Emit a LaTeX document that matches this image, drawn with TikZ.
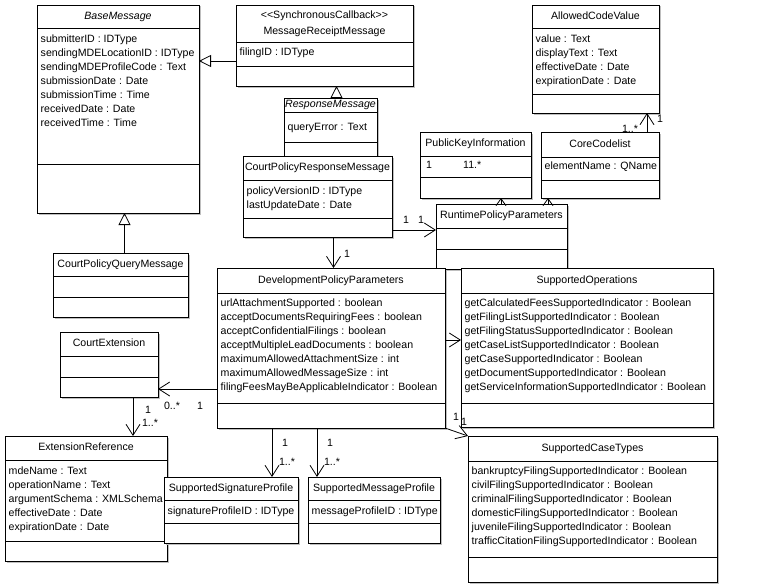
\documentclass[tikz,border=0pt]{standalone}
\usepackage{fontspec}
\setmainfont{Liberation Sans}
\usetikzlibrary{arrows.meta, shadows}

\tikzset{
  classbox/.style={draw, fill=white, line width=0.8pt, anchor=north west, outer sep=0pt, inner sep=0pt,
    drop shadow={shadow xshift=1.5pt, shadow yshift=-1.5pt, fill=black!25, opacity=1}},
  umltext/.style={font=\fontsize{10.6}{14}\selectfont, inner sep=0pt, text height=7.5pt, text depth=2pt},
  titletext/.style={umltext},
  attrtext/.style={umltext, anchor=west},
  multlabel/.style={umltext},
  gen/.style={line width=0.8pt, -{Triangle[open, length=12pt, width=12pt]}},
  assoc/.style={line width=0.8pt, -{Straight Barb[length=11pt, width=14pt]}},
  assocshort/.style={line width=0.8pt, -{Straight Barb[length=7pt, width=10pt]}},
}

% class box: name, x, y, width, height, title line, attribute line, title
\newcommand{\umlclass}[8]{%
  \node[classbox, minimum width=#4pt, minimum height=#5pt] (#1) at (#2,#3) {};
  \draw[line width=0.8pt] ([yshift=-#6pt]#1.north west) -- ([yshift=-#6pt]#1.north east);
  \draw[line width=0.8pt] ([yshift=-#7pt]#1.north west) -- ([yshift=-#7pt]#1.north east);
  \node[titletext] (#1-t) at ([yshift={-#6/2}]#1.north) {#8};
}
% attributes: name, first row below top, list
\newcommand{\umlattrs}[3]{%
  \foreach \txt [count=\i] in {#3}
    \node[attrtext] (#1-a\i) at ([xshift=3.5pt, yshift={-(#2+14*(\i-1))}]#1.north west) {\txt};
}

\begin{document}
\begin{tikzpicture}[x=1pt, y=-1pt]
  \useasboundingbox[fill=white] (0,0) rectangle (765,586);

  % Messages
  \umlclass{base}{37}{5}{162}{208}{23}{159}{\textit{BaseMessage}}
  \umlattrs{base}{35}{submitterID : IDType, sendingMDELocationID : IDType, sendingMDEProfileCode : Text, submissionDate : Date, submissionTime : Time, receivedDate : Date, receivedTime : Time}

  \umlclass{mrm}{236}{5}{177}{81}{37}{61}{}
  \node[titletext] (mrm-s) at ([yshift=-11pt]mrm.north) {<{}<SynchronousCallback>{}>};
  \node[titletext] (mrm-n) at ([yshift=-27pt]mrm.north) {MessageReceiptMessage};
  \umlattrs{mrm}{48}{filingID : IDType}

  \umlclass{rm}{284}{98}{93}{59}{14}{44}{\textit{ResponseMessage}}
  \umlattrs{rm}{30}{queryError : Text}

  \umlclass{cprm}{243}{156}{149}{81}{24}{62}{CourtPolicyResponseMessage}
  \umlattrs{cprm}{36}{policyVersionID : IDType, lastUpdateDate : Date}

  \umlclass{cpqm}{53}{253}{135}{64}{23}{44}{CourtPolicyQueryMessage}

  % Code lists
  \umlclass{acv}{532}{5}{127}{108}{23}{89}{AllowedCodeValue}
  \umlattrs{acv}{35}{value : Text, displayText : Text, effectiveDate : Date, expirationDate : Date}

  \umlclass{pki}{420}{132}{111}{66}{24}{45}{PublicKeyInformation}
  \node[attrtext] (pki-m1) at (426,166) {1};
  \node[attrtext] (pki-m2) at (463,166) {11.*};

  \umlclass{core}{541}{132}{118}{66}{25}{48}{CoreCodelist}
  \umlattrs{core}{35}{elementName : QName}

  \umlclass{runtime}{436}{204}{131}{65}{24}{45}{RuntimePolicyParameters}

  % Policy parameters
  \umlclass{dpp}{217}{268}{228}{160}{25}{135}{DevelopmentPolicyParameters}
  \umlattrs{dpp}{36}{urlAttachmentSupported : boolean, acceptDocumentsRequiringFees : boolean, acceptConfidentialFilings : boolean, acceptMultipleLeadDocuments : boolean, maximumAllowedAttachmentSize : int, maximumAllowedMessageSize : int, filingFeesMayBeApplicableIndicator : Boolean}

  \umlclass{so}{461}{268}{252}{159}{25}{135}{SupportedOperations}
  \umlattrs{so}{36}{getCalculatedFeesSupportedIndicator : Boolean, getFilingListSupportedIndicator : Boolean, getFilingStatusSupportedIndicator : Boolean, getCaseListSupportedIndicator : Boolean, getCaseSupportedIndicator : Boolean, getDocumentSupportedIndicator : Boolean, getServiceInformationSupportedIndicator : Boolean}

  \umlclass{sct}{468}{436}{249}{146}{25}{121}{SupportedCaseTypes}
  \umlattrs{sct}{36}{bankruptcyFilingSupportedIndicator : Boolean, civilFilingSupportedIndicator : Boolean, criminalFilingSupportedIndicator : Boolean, domesticFilingSupportedIndicator : Boolean, juvenileFilingSupportedIndicator : Boolean, trafficCitationFilingSupportedIndicator : Boolean}

  % Extensions and profiles
  \umlclass{ce}{60}{332}{98}{65}{24}{45}{CourtExtension}

  \umlclass{er}{5}{436}{162}{125}{24}{105}{ExtensionReference}
  \umlattrs{er}{36}{mdeName : Text, operationName : Text, argumentSchema : XMLSchema, effectiveDate : Date, expirationDate : Date}

  \umlclass{ssp}{164}{477}{134}{66}{23}{46}{SupportedSignatureProfile}
  \umlattrs{ssp}{35}{signatureProfileID : IDType}

  \umlclass{smp}{308}{477}{132}{66}{23}{46}{SupportedMessageProfile}
  \umlattrs{smp}{35}{messageProfileID : IDType}

  % Generalizations
  \coordinate (mrm-g) at ([yshift=-56pt]mrm.north west);
  \draw[gen] (mrm-g) -- (mrm-g -| base.east);
  \coordinate (cpqm-g) at ([xshift=4pt]cpqm.north);
  \draw[gen] (cpqm-g) -- (cpqm-g |- base.south);
  \coordinate (rm-g) at ([xshift=6pt]rm.north);
  \draw[gen] (rm-g) -- (rm-g |- mrm.south);

  % Associations
  \coordinate (cprm-r) at ([yshift=7pt]cprm.south east);
  \draw[assoc] (cprm-r) -- (cprm-r -| runtime.west);
  \coordinate (cprm-d) at ([xshift=16pt]cprm.south);
  \draw[assoc] (cprm-d) -- (cprm-d |- dpp.north);
  \coordinate (rt-p) at ([xshift=65pt]runtime.north west);
  \draw[assocshort] (rt-p) -- (rt-p |- pki.south);
  \coordinate (rt-c) at ([xshift=112pt]runtime.north west);
  \draw[assocshort] (rt-c) -- (rt-c |- core.south);
  \coordinate (core-a) at ([xshift=-12pt]core.north east);
  \draw[assoc] (core-a) -- (core-a |- acv.south);
  \coordinate (dpp-s) at ([yshift=-72pt]dpp.north east);
  \draw[assoc] (dpp-s) -- (dpp-s -| so.west);
  \draw[assoc] (dpp.south east) -- (sct.north west);
  \coordinate (dpp-c) at ([yshift=39pt]dpp.south west);
  \draw[assoc] (dpp-c) -- (dpp-c -| ce.east);
  \coordinate (ce-e) at ([xshift=24pt]ce.south);
  \draw[assoc] (ce-e) -- (ce-e |- er.north);
  \coordinate (dpp-g) at ([xshift=-59pt]dpp.south);
  \draw[assoc] (dpp-g) -- (dpp-g |- ssp.north);
  \coordinate (dpp-m) at ([xshift=-14pt]dpp.south);
  \draw[assoc] (dpp-m) -- (dpp-m |- smp.north);

  % Multiplicities
  \node[multlabel] (m1) at (406,221) {1};
  \node[multlabel] (m2) at (421,221) {1};
  \node[multlabel] (m3) at (347,255) {1};
  \node[multlabel] (m4) at (630,130) {1..*};
  \node[multlabel] (m5) at (660,120) {1};
  \node[multlabel] (m6) at (456,418) {1};
  \node[multlabel] (m7) at (464,423) {1};
  \node[multlabel] (m8) at (172,407) {0..*};
  \node[multlabel] (m9) at (200,407) {1};
  \node[multlabel] (m10) at (148,411) {1};
  \node[multlabel] (m11) at (150,424) {1..*};
  \node[multlabel] (m12) at (285,444) {1};
  \node[multlabel] (m13) at (287,463) {1..*};
  \node[multlabel] (m14) at (330,444) {1};
  \node[multlabel] (m15) at (332,463) {1..*};
\end{tikzpicture}
\end{document}
